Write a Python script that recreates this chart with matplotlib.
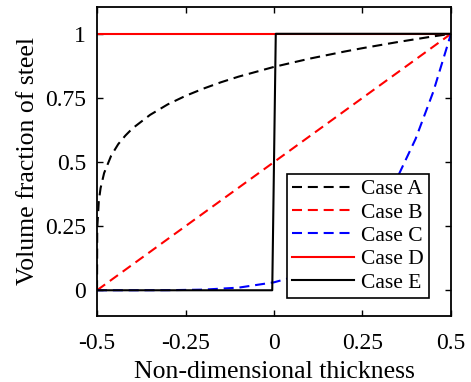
import matplotlib
matplotlib.use("Agg")
import matplotlib.pyplot as plt

plt.rcParams['font.family'] = ['Liberation Serif', 'DejaVu Serif']
plt.rcParams['mathtext.fontset'] = 'stix'

# Data
x_A = [-0.5, -0.4995, -0.499, -0.495, -0.49, -0.48, -0.46, -0.44, -0.42, -0.4,
       -0.35, -0.3, -0.25, -0.2, -0.15, -0.1, -0.05, 0.0, 0.05, 0.1, 0.15, 0.2,
       0.25, 0.3, 0.35, 0.4, 0.45, 0.5]
y_A = [0.0, 0.219, 0.251, 0.347, 0.398, 0.457, 0.525, 0.570, 0.603, 0.631,
       0.684, 0.725, 0.758, 0.786, 0.811, 0.833, 0.852, 0.871, 0.887, 0.903,
       0.917, 0.931, 0.944, 0.956, 0.968, 0.979, 0.990, 1.0]

x_B = [-0.5, 0.5]
y_B = [0.0, 1.0]

x_C = [-0.5, -0.4, -0.3, -0.2, -0.1, 0.0, 0.05, 0.1, 0.15, 0.2, 0.25, 0.3,
       0.35, 0.4, 0.45, 0.5]
y_C = [0.0, 0.00001, 0.00032, 0.00243, 0.01024, 0.031, 0.050, 0.078, 0.116,
       0.168, 0.237, 0.328, 0.444, 0.590, 0.774, 1.0]

x_D = [-0.5, 0.5]
y_D = [1.0, 1.0]

x_E = [-0.5, -0.005, 0.005, 0.5]
y_E = [0.0, 0.0, 1.0, 1.0]

labels = ['Case A', 'Case B', 'Case C', 'Case D', 'Case E']
xticks = [-0.5, -0.25, 0, 0.25, 0.5]
xticklabels = ['-0.5', '-0.25', '0', '0.25', '0.5']
yticks = [0, 0.25, 0.5, 0.75, 1]
yticklabels = ['0', '0.25', '0.5', '0.75', '1']

fig = plt.figure(figsize=(4.71, 3.82), dpi=100)
ax = fig.add_axes([0.206, 0.173, 0.7515, 0.809])

lw = 1.5
dash = (4.8, 2.8)
ax.plot(x_A, y_A, color='black', lw=lw, linestyle=(0, dash), label=labels[0])
ax.plot(x_B, y_B, color='red', lw=lw, linestyle=(0, dash), label=labels[1])
ax.plot(x_C, y_C, color='blue', lw=lw, linestyle=(0, dash), label=labels[2])
ax.plot(x_D, y_D, color='red', lw=lw, linestyle='-', label=labels[3])
ax.plot(x_E, y_E, color='black', lw=lw, linestyle='-', label=labels[4])

ax.set_xlim(-0.5, 0.5)
ax.set_ylim(-0.1, 1.105)
ax.set_xticks(xticks)
ax.set_xticklabels(xticklabels)
ax.set_yticks(yticks)
ax.set_yticklabels(yticklabels)
ax.tick_params(direction='in', top=True, right=True, labelsize=17, length=4,
               width=1)
ax.tick_params(axis='x', pad=12)
ax.tick_params(axis='y', pad=8)
for s in ax.spines.values():
    s.set_linewidth(1.3)

ax.set_xlabel('Non-dimensional thickness', fontsize=18.5, labelpad=5)
ax.set_ylabel('Volume fraction of steel', fontsize=18.5, labelpad=4)

leg = ax.legend(loc='lower right', bbox_to_anchor=(0.938, 0.058),
                borderaxespad=0, fontsize=15.5, handlelength=2.9,
                handletextpad=0.3, labelspacing=0.15, fancybox=False,
                framealpha=1, edgecolor='black', borderpad=0.25)
leg.get_frame().set_linewidth(1.2)

fig.savefig('out.png', dpi=100)
